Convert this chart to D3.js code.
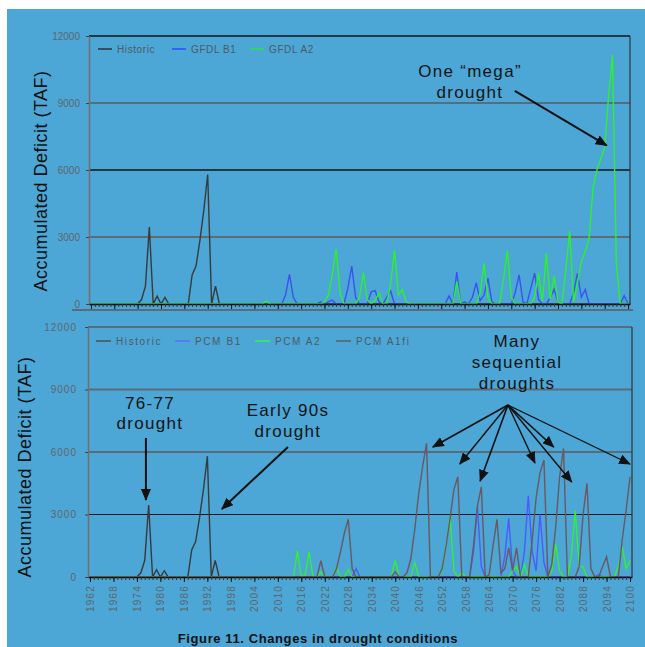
<!DOCTYPE html>
<html>
<head>
<meta charset="utf-8">
<script src="https://cdn.jsdelivr.net/npm/d3@7"></script>
<style>
  body { margin: 0; background: #fff; }
  svg { display: block; }
  text { font-family: "Liberation Sans", Arial, sans-serif; }
</style>
</head>
<body>
<svg id="chart" width="645" height="647"></svg>
<script>
// categories
const years = d3.range(1962, 2101);
const labelYears = d3.range(1962, 2101, 6);
const yTicks = [0, 3000, 6000, 9000, 12000];

// series values, [year, deficit TAF]; years not listed read as 0
const historic = [[1975,200],[1976,800],[1977,3450],[1979,350],[1981,300],[1988,1300],[1989,1700],[1990,2850],[1991,4200],[1992,5800],[1994,800]];

const gfdlB1 = [[2012,400],[2013,1330],[2014,300],[2021,100],[2023,100],[2024,180],[2028,700],[2029,1700],[2030,300],
  [2034,550],[2035,600],[2036,100],[2038,300],[2039,580],[2054,360],[2056,1430],[2058,100],[2060,300],[2061,950],[2062,150],
  [2063,400],[2064,1160],[2065,100],[2071,500],[2072,1300],[2073,100],[2075,700],[2076,1380],[2077,200],[2080,300],[2081,650],
  [2082,100],[2086,500],[2087,1370],[2088,300],[2089,650],[2099,370]];

const gfdlA2 = [[2007,130],[2022,100],[2023,400],[2024,1300],[2025,2460],[2026,500],[2031,300],[2032,1390],[2033,200],
  [2035,150],[2036,490],[2039,900],[2040,2420],[2041,400],[2042,650],[2043,100],[2056,1000],[2062,500],[2063,1820],[2064,300],
  [2068,1100],[2069,2390],[2070,300],[2076,300],[2077,1380],[2078,100],[2079,2270],[2080,200],[2081,1250],[2082,100],
  [2084,1500],[2085,3270],[2086,100],[2087,950],[2088,1900],[2089,2350],[2090,2950],[2091,5200],[2092,6000],[2093,6500],
  [2094,7000],[2095,9300],[2096,11150],[2097,1800]];

const pcmB1 = [[2030,400],[2060,1200],[2061,3370],[2062,500],[2068,1000],[2069,2800],[2070,300],[2073,1200],[2074,3900],
  [2075,1200],[2076,300],[2077,3000],[2078,700],[2092,100]];

const pcmA2 = [[2015,1260],[2017,100],[2018,1210],[2021,240],[2025,450],[2028,350],[2040,800],[2045,700],[2052,300],
  [2053,1500],[2054,2930],[2055,300],[2057,200],[2070,300],[2071,500],[2073,600],[2080,300],[2081,1600],[2082,300],
  [2085,1000],[2086,3200],[2087,500],[2088,500],[2097,500],[2098,1450],[2099,400],[2100,800]];

const pcmA1fi = [[2021,780],[2025,400],[2026,1200],[2027,2100],[2028,2770],[2029,400],[2040,250],[2043,200],[2044,900],
  [2045,2300],[2046,4000],[2047,5300],[2048,6420],[2052,400],[2053,1500],[2054,2800],[2055,4200],[2056,4810],[2060,1500],
  [2061,3400],[2062,4330],[2064,100],[2065,1500],[2066,2770],[2067,200],[2068,400],[2069,1400],[2070,300],[2071,1400],
  [2075,1800],[2076,3800],[2077,5000],[2078,5620],[2080,600],[2081,2400],[2082,4800],[2083,6170],[2087,500],[2088,3000],
  [2089,4500],[2090,400],[2093,500],[2094,970],[2098,1800],[2099,3200],[2100,4810]];

const svg = d3.select("#chart");

svg.append("rect").attr("width", 645).attr("height", 647).attr("fill", "#fff");
svg.append("rect").attr("x", 7).attr("y", 9).attr("width", 638).attr("height", 638).attr("fill", "#4ca6d6");

// arrow head
svg.append("defs").append("marker")
    .attr("id", "ah")
    .attr("viewBox", "0 0 12 10")
    .attr("refX", 11).attr("refY", 5)
    .attr("markerWidth", 12).attr("markerHeight", 10)
    .attr("markerUnits", "userSpaceOnUse")
    .attr("orient", "auto")
  .append("path")
    .attr("d", "M0,0 L12,5 L0,10 z")
    .attr("fill", "#111");

// every year gets a value, 0 where the picture shows the line on the axis
function expand(pairs) {
    const m = new Map(pairs);
    return years.map(yr => [yr, m.get(yr) || 0]);
}

function drawPanel(p) {
    const g = svg.append("g");
    const x = d3.scaleLinear().domain([1961.5, 2100.5]).range([p.left, p.right]);
    const y = d3.scaleLinear().domain([0, 12000]).range([p.bottom, p.top]);

    // gridlines
    g.selectAll(".grid").data(p.grid).enter().append("line")
        .attr("x1", p.left).attr("x2", p.right)
        .attr("y1", d => y(d.v)).attr("y2", d => y(d.v))
        .attr("stroke", d => d.c)
        .attr("stroke-width", d => d.w);

    // right border
    g.append("line")
        .attr("x1", p.right).attr("x2", p.right)
        .attr("y1", p.top).attr("y2", p.bottom)
        .attr("stroke", "#333").attr("stroke-width", 1.2);

    // series lines
    const line = d3.line().x(d => x(d[0])).y(d => y(d[1]));
    p.series.forEach(s => {
        g.append("path")
            .datum(expand(s.data))
            .attr("d", line)
            .attr("fill", "none")
            .attr("stroke", s.color)
            .attr("stroke-width", 1.4);
    });

    // y axis
    const ya = g.append("g")
        .attr("transform", "translate(" + p.left + ",0)")
        .call(d3.axisLeft(y).tickValues(yTicks).tickFormat(d3.format("d"))
            .tickSize(3).tickSizeOuter(0).tickPadding(p.yPad));
    ya.select(".domain").attr("stroke", "#6b7276").attr("stroke-width", 1.5);
    ya.selectAll(".tick line").attr("stroke", "#444");
    ya.selectAll(".tick text")
        .attr("fill", "#5e666b")
        .style("font-size", "10px")
        .style("letter-spacing", p.yLetter + "px")
        .style("font-family", "'Liberation Sans', Arial, sans-serif");

    // x axis: minor tick every year
    const xMinor = g.append("g")
        .attr("transform", "translate(0," + p.bottom + ")")
        .call(d3.axisBottom(x).tickValues(years).tickSize(3).tickSizeOuter(0).tickFormat(""));
    xMinor.select(".domain").attr("stroke", "#111").attr("stroke-width", 1.5);
    xMinor.selectAll(".tick line").attr("stroke", "#333");

    // x axis: major ticks every 6 years
    const xMajor = g.append("g")
        .attr("transform", "translate(0," + p.bottom + ")")
        .call(d3.axisBottom(x).tickValues(labelYears).tickSize(5).tickSizeOuter(0)
            .tickFormat(p.xLabels ? d3.format("d") : ""));
    xMajor.select(".domain").remove();
    xMajor.selectAll(".tick line").attr("stroke", "#111");
    if (p.xLabels) {
        xMajor.selectAll(".tick text")
            .attr("transform", "rotate(-90)")
            .attr("text-anchor", "end")
            .attr("x", -8)
            .attr("y", 0)
            .attr("dy", "0.35em")
            .attr("fill", "#5e666b")
            .style("font-size", "10px")
            .style("letter-spacing", "1.2px")
            .style("font-family", "'Liberation Sans', Arial, sans-serif");
    }

    // y title
    g.append("text")
        .attr("transform", "translate(" + p.titleX + "," + p.titleY + ") rotate(-90)")
        .attr("text-anchor", "middle")
        .attr("dy", "0.35em")
        .attr("fill", "#111")
        .style("font-size", "18px")
        .style("letter-spacing", "0.5px")
        .text("Accumulated Deficit (TAF)");

    // legend
    const lg = g.selectAll(".legend").data(p.legend).enter().append("g");
    lg.append("line")
        .attr("x1", d => d.x).attr("x2", d => d.x + d.len)
        .attr("y1", p.legendY).attr("y2", p.legendY)
        .attr("stroke", d => d.color).attr("stroke-width", 1.3);
    lg.append("text")
        .attr("x", d => d.x + d.len + 5)
        .attr("y", p.legendY)
        .attr("dy", "0.35em")
        .attr("fill", "#4f5a62")
        .style("font-size", "10px")
        .style("letter-spacing", p.legendLetter + "px")
        .text(d => d.name);

    // annotations
    p.notes.forEach(n => {
        g.append("text")
            .attr("x", n.x)
            .attr("text-anchor", "middle")
            .attr("fill", "#141414")
            .style("font-size", "17px")
            .style("letter-spacing", "1.3px")
            .selectAll("tspan").data(n.lines).enter().append("tspan")
            .attr("x", n.x)
            .attr("y", (d, i) => n.y + i * n.lh)
            .text(d => d);
    });
    p.arrows.forEach(a => {
        g.append("line")
            .attr("x1", x(a.from[0])).attr("y1", y(a.from[1]))
            .attr("x2", x(a.to[0])).attr("y2", y(a.to[1]))
            .attr("stroke", "#111")
            .attr("stroke-width", a.w)
            .attr("marker-end", "url(#ah)");
    });
}

// top panel (GFDL)
drawPanel({
    left: 89, right: 630, top: 36, bottom: 304,
    yPad: 6, yLetter: 0,
    xLabels: false,
    titleX: 41, titleY: 181,
    grid: [
        { v: 3000, c: "#5b6b77", w: 2 },
        { v: 6000, c: "#151515", w: 1.3 },
        { v: 9000, c: "#5b6b77", w: 2 },
        { v: 12000, c: "#151515", w: 1.3 }
    ],
    series: [
        { data: historic, color: "#3a3a3a" },
        { data: gfdlB1, color: "#3a52f2" },
        { data: gfdlA2, color: "#2cf22c" }
    ],
    legendY: 49, legendLetter: 0.6,
    legend: [
        { name: "Historic", color: "#222", x: 98, len: 14 },
        { name: "GFDL B1", color: "#2340ff", x: 172, len: 14 },
        { name: "GFDL A2", color: "#22ee22", x: 250, len: 14 }
    ],
    notes: [
        { x: 470, y: 77, lh: 21, lines: ["One \u201cmega\u201d", "drought"] }
    ],
    arrows: [
        { from: [2070.9, 9540], to: [2094.5, 7100], w: 2 }
    ]
});

// bottom panel (PCM)
drawPanel({
    left: 88, right: 632, top: 327, bottom: 577,
    yPad: 8, yLetter: 1,
    xLabels: true,
    titleX: 25, titleY: 467,
    grid: [
        { v: 3000, c: "#151515", w: 1.2 },
        { v: 6000, c: "#5b6b77", w: 2 },
        { v: 9000, c: "#5b6b77", w: 2 },
        { v: 12000, c: "#5b6b77", w: 2 }
    ],
    series: [
        { data: historic, color: "#3a3a3a" },
        { data: pcmB1, color: "#4a5cff" },
        { data: pcmA2, color: "#33f033" },
        { data: pcmA1fi, color: "#6b5860" }
    ],
    legendY: 341, legendLetter: 1.6,
    legend: [
        { name: "Historic", color: "#444", x: 96, len: 15 },
        { name: "PCM B1", color: "#5a6aff", x: 175, len: 15 },
        { name: "PCM A2", color: "#33ff33", x: 255, len: 15 },
        { name: "PCM A1fi", color: "#555", x: 336, len: 15 }
    ],
    notes: [
        { x: 150, y: 409, lh: 20, lines: ["76-77", "drought"] },
        { x: 288, y: 416, lh: 21, lines: ["Early 90s", "drought"] },
        { x: 517, y: 347, lh: 21, lines: ["Many", "sequential", "droughts"] }
    ],
    arrows: [
        { from: [1976.3, 6672], to: [1976.3, 3696], w: 2 },
        { from: [2012.6, 6240], to: [1995.7, 3264], w: 2 },
        { from: [2068.8, 8256], to: [2049.6, 6240], w: 1.6 },
        { from: [2068.8, 8256], to: [2056.5, 5424], w: 1.4 },
        { from: [2068.8, 8256], to: [2061.7, 4608], w: 1.6 },
        { from: [2068.8, 8256], to: [2075.7, 5472], w: 1.4 },
        { from: [2068.8, 8256], to: [2080.5, 6240], w: 1.6 },
        { from: [2068.8, 8256], to: [2085.1, 4560], w: 1.4 },
        { from: [2068.8, 8256], to: [2100.0, 5424], w: 1.2 }
    ]
});

// separator between the two chart images
svg.append("line")
    .attr("x1", 72).attr("x2", 633)
    .attr("y1", 310).attr("y2", 310)
    .attr("stroke", "#5b6b77").attr("stroke-width", 2);

// caption at the bottom edge
svg.append("text")
    .attr("x", 318).attr("y", 643)
    .attr("text-anchor", "middle")
    .attr("fill", "#111")
    .style("font-size", "13px")
    .style("font-weight", "bold")
    .style("letter-spacing", "0.6px")
    .text("Figure 11. Changes in drought conditions");
</script>
</body>
</html>
